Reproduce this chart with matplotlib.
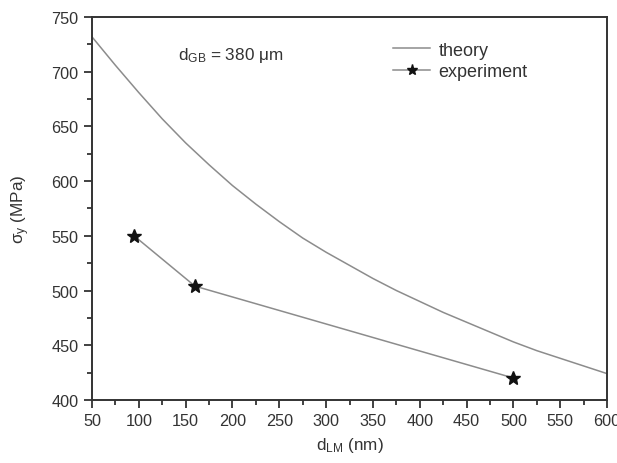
import matplotlib.pyplot as plt
from matplotlib.ticker import MultipleLocator

plt.rcParams["font.family"] = ["Liberation Sans", "DejaVu Sans"]
plt.rcParams["mathtext.fontset"] = "custom"
plt.rcParams["mathtext.rm"] = "Liberation Sans"
plt.rcParams["mathtext.it"] = "Liberation Sans"

# theory curve
theory_d = [50, 75, 100, 125, 150, 175, 200, 225, 250, 275, 300, 325,
            350, 375, 400, 425, 450, 475, 500, 525, 550, 575, 600]
theory_sigma = [732, 706, 681, 657, 635, 615, 596, 579, 563, 548, 535, 523,
                511, 500, 490, 480, 471, 462, 453, 445, 438, 431, 424]

# experiment points
exp_d = [95, 160, 500]
exp_sigma = [550, 504, 420]

ink = "#333333"
fig = plt.figure(figsize=(6.17, 4.64), dpi=100)
ax = fig.add_axes([0.149, 0.136, 0.835, 0.825])

ax.plot(theory_d, theory_sigma, color="#8c8c8c", lw=1.1, label="theory")
ax.plot(exp_d, exp_sigma, color="#8c8c8c", lw=1.1, marker="*", ms=10,
        mfc="#111111", mec="#111111", label="experiment")

ax.set_xlim(50, 600)
ax.set_ylim(400, 750)
ax.xaxis.set_major_locator(MultipleLocator(50))
ax.xaxis.set_minor_locator(MultipleLocator(25))
ax.yaxis.set_major_locator(MultipleLocator(50))
ax.yaxis.set_minor_locator(MultipleLocator(25))
ax.tick_params(which="both", direction="out", top=False, right=False,
               colors=ink, labelsize=11.7, width=1.3)
ax.tick_params(which="major", length=6)
ax.tick_params(which="minor", length=3.5)
for s in ax.spines.values():
    s.set_color(ink)
    s.set_linewidth(1.4)

ax.set_xlabel(r"d$_{\rm LM}$ (nm)", fontsize=12.3, color=ink, labelpad=5)
ax.set_ylabel(r"$\sigma_{\rm y}$ (MPa)", fontsize=12.3, color=ink, labelpad=14)

ax.text(142, 716, r"d$_{\rm GB}$ = 380 $\mu$m", fontsize=12.3, color=ink, va="center")

ax.legend(loc="upper left", bbox_to_anchor=(0.552, 0.978), frameon=False,
          fontsize=13, handlelength=2.1, handletextpad=0.45, labelspacing=0.25,
          labelcolor=ink, markerscale=0.8)

fig.savefig("out.png", dpi=100)
